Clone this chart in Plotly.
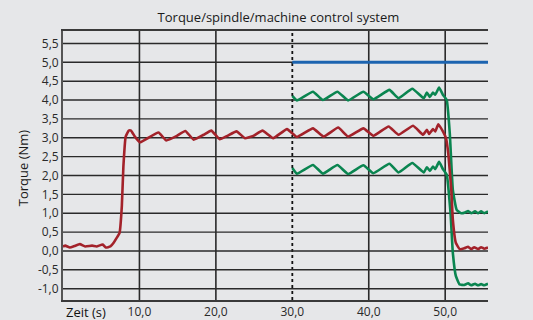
import plotly.graph_objects as go

# ---- data ----
red_x = [0, 0.3, 0.9, 1.5, 2.2, 2.9, 3.8, 4.4, 5.2, 5.6, 6.2, 6.6, 7.0, 7.4, 7.7, 7.9, 8.2, 8.6, 8.9, 9.4,
         10.1, 11.0, 12.5, 13.5, 14.9, 16.0, 17.1, 18.4, 19.4, 20.5, 21.5, 22.7, 23.8, 24.9, 26.1, 27.5, 29.3,
         30.6, 32.7, 34.1, 36.0, 37.3, 39.3, 40.6, 42.6, 43.9, 45.8, 47.1, 47.6, 47.9, 48.4, 48.7, 49.1, 49.7,
         50.1, 50.4, 50.8, 51.0, 51.4, 51.9, 52.5, 53.0, 53.4, 53.8, 54.3, 54.7, 55.1, 55.6]
red_y = [0.12, 0.14, 0.09, 0.13, 0.18, 0.12, 0.14, 0.12, 0.17, 0.09, 0.12, 0.21, 0.34, 0.48, 1.2, 2.24, 3.03, 3.19, 3.19, 3.03,
         2.88, 2.98, 3.14, 2.93, 3.05, 3.18, 2.95, 3.08, 3.19, 2.96, 3.05, 3.17, 2.99, 3.05, 3.19, 2.99, 3.23,
         3.02, 3.25, 3.03, 3.27, 3.03, 3.25, 3.05, 3.30, 3.08, 3.32, 3.08, 3.21, 3.10, 3.23, 3.17, 3.36, 3.17,
         2.99, 2.59, 1.62, 0.83, 0.21, 0.05, 0.07, 0.11, 0.05, 0.10, 0.05, 0.10, 0.06, 0.09]

green_hi_x = [30.0, 30.6, 32.7, 34.0, 35.9, 37.3, 39.3, 40.6, 42.7, 43.9, 45.7, 47.2, 47.6, 48.0, 48.4, 48.7, 49.2, 49.7,
              50.2, 50.6, 51.0, 51.5, 52.1, 52.6, 53.0, 53.4, 53.9, 54.3, 54.7, 55.1, 55.6]
green_hi_y = [4.11, 3.99, 4.22, 4.00, 4.22, 3.99, 4.22, 4.02, 4.27, 4.05, 4.30, 4.05, 4.20, 4.08, 4.20, 4.14, 4.33, 4.14,
              4.00, 3.12, 1.62, 1.09, 1.00, 1.02, 1.06, 1.00, 1.05, 1.00, 1.05, 1.00, 1.05]

green_lo_x = [30.0, 30.6, 32.7, 34.0, 35.9, 37.3, 39.3, 40.6, 42.7, 43.9, 45.7, 47.2, 47.6, 48.0, 48.4, 48.7, 49.2, 49.7,
              50.2, 50.7, 51.0, 51.4, 51.9, 52.5, 53.0, 53.4, 53.9, 54.3, 54.7, 55.1, 55.6]
green_lo_y = [2.20, 2.05, 2.28, 2.05, 2.28, 2.04, 2.27, 2.06, 2.31, 2.08, 2.33, 2.08, 2.22, 2.12, 2.24, 2.17, 2.36, 2.17,
              2.02, 1.0, -0.05, -0.67, -0.89, -0.90, -0.86, -0.91, -0.87, -0.91, -0.88, -0.91, -0.87]

blue_x = [30.0, 55.6]
blue_y = [5.0, 5.0]

x_ticks = [10, 20, 30, 40, 50]
x_tick_labels = ["10,0", "20,0", "30,0", "40,0", "50,0"]
x_grid = [10, 20, 40, 50]
y_ticks = [-1.0, -0.5, 0.0, 0.5, 1.0, 1.5, 2.0, 2.5, 3.0, 3.5, 4.0, 4.5, 5.0, 5.5]
y_tick_labels = ["-1,0", "-0,5", "0,0", "0,5", "1,0", "1,5", "2,0", "2,5", "3,0", "3,5", "4,0", "4,5", "5,0", "5,5"]
marker_x = 30
x_range = [0, 55.6]

RED = "#a3222a"
GREEN = "#0a8550"
BLUE = "#1c64b0"
BG = "#e6e7e9"
GRID = "#2a2a2a"
FONT = "Open Sans"

# vertical grid lines as layout shapes under the data
shapes = []
for v in x_grid:
    shapes.append(dict(type="line", xref="x", x0=v, x1=v, yref="paper", y0=0, y1=1,
                       line=dict(color=GRID, width=1.6), layer="below"))
shapes.append(dict(type="line", xref="x", x0=marker_x, x1=marker_x, yref="paper", y0=0, y1=1,
                   line=dict(color="#111111", width=1.8, dash="dot"), layer="below"))

# horizontal grid lines, spanning the x range at each y tick
grid_x, grid_y = [], []
for v in y_ticks:
    grid_x += [x_range[0], x_range[1], None]
    grid_y += [v, v, None]

fig = go.Figure()
fig.add_trace(go.Scatter(x=grid_x, y=grid_y, mode="lines", line=dict(color=GRID, width=1.4),
                         hoverinfo="skip", showlegend=False, connectgaps=False))
line_kw = dict(shape="spline", smoothing=0.35)
fig.add_trace(go.Scatter(x=blue_x, y=blue_y, mode="lines", line=dict(color=BLUE, width=3), showlegend=False))
fig.add_trace(go.Scatter(x=green_hi_x, y=green_hi_y, mode="lines", line=dict(color=GREEN, width=2.6, **line_kw), showlegend=False))
fig.add_trace(go.Scatter(x=green_lo_x, y=green_lo_y, mode="lines", line=dict(color=GREEN, width=2.6, **line_kw), showlegend=False))
fig.add_trace(go.Scatter(x=red_x, y=red_y, mode="lines", line=dict(color=RED, width=2.6, **line_kw), showlegend=False))

fig.update_layout(
    template="none",
    width=533, height=320,
    margin=dict(l=63, r=45, t=31, b=20),
    paper_bgcolor=BG, plot_bgcolor=BG,
    font=dict(family=FONT, size=12, color="#2a2a2a"),
    shapes=shapes,
    title=dict(text="Torque/spindle/machine control system", x=0.507, xanchor="center",
               xref="paper", y=0.945, yref="container", yanchor="middle",
               font=dict(size=13, color="#1a1a1a")),
    xaxis=dict(range=x_range, tickvals=x_ticks, ticktext=x_tick_labels, showgrid=False,
               automargin=False,
               showline=True, linecolor="#3a3a3a", linewidth=2, mirror=True,
               ticks="", zeroline=False, tickfont=dict(size=12, color="#2a2a2a")),
    yaxis=dict(range=[-1.3, 5.83], tickvals=y_ticks, ticktext=y_tick_labels, showgrid=False,
               zeroline=False, showline=True, automargin=False,
               linecolor="#555555", linewidth=2, ticks="", tickfont=dict(size=12, color="#2a2a2a")),
    annotations=[
        dict(text="Torque (Nm)", textangle=-90, xref="paper", yref="paper", x=-0.094, y=0.49,
             xanchor="center", yanchor="middle", showarrow=False, font=dict(size=13, color="#1a1a1a")),
        dict(text="Zeit (s)", xref="paper", yref="paper", x=0.002, y=-0.045,
             xanchor="left", yanchor="middle", showarrow=False, font=dict(size=13, color="#111111")),
    ],
)

fig.write_html("out.html", config={"displayModeBar": False},
               post_script="document.body.style.margin='0';")
